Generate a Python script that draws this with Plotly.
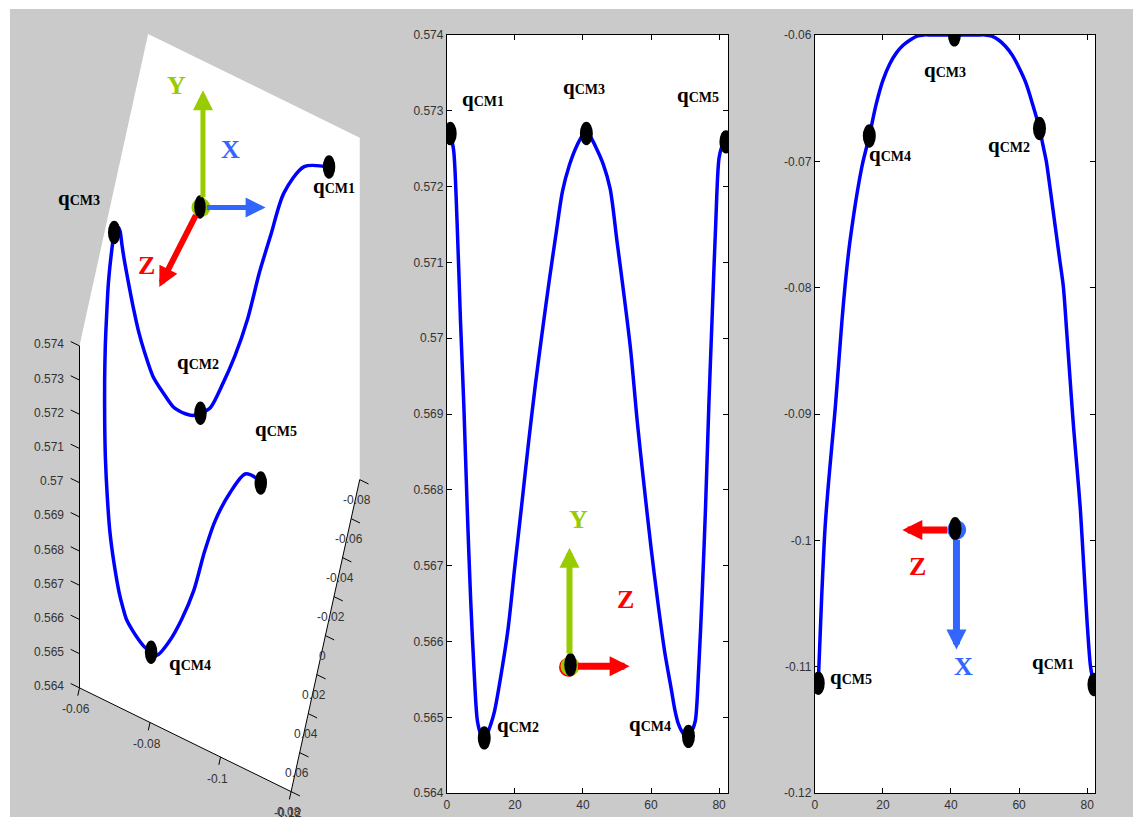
import plotly.graph_objects as go

W, H = 1133, 824

# ------------------------------------------------------------------ data
# sample number of the centre-of-mass trajectory
sample_idx = [1, 2, 3, 4, 5, 6, 7, 8, 9, 10,
              11, 12, 13, 14, 16, 18, 20, 22, 24, 26,
              28, 30, 32, 34, 36, 38, 40, 41, 42, 44,
              46, 48, 50, 52, 54, 56, 58, 60, 62, 64,
              66, 67, 68, 69, 70, 71, 72, 73, 74, 75,
              76, 77, 78, 79, 80, 81, 82]
# vertical coordinate Y (middle panel)
cm_y = [0.57270, 0.57248, 0.57155, 0.57025, 0.56911, 0.56775, 0.56656, 0.56562, 0.56495, 0.56478,
        0.56473, 0.56480, 0.56492, 0.56508, 0.56558, 0.56617, 0.56700, 0.56780, 0.56862, 0.56938,
        0.57007, 0.57073, 0.57135, 0.57194, 0.57228, 0.57252, 0.57268, 0.57270, 0.57267, 0.57250,
        0.57229, 0.57197, 0.57128, 0.57059, 0.56985, 0.56888, 0.56804, 0.56724, 0.56652, 0.56587,
        0.56536, 0.56510, 0.56492, 0.56482, 0.56476, 0.56475, 0.56482, 0.56495, 0.56564, 0.56660,
        0.56775, 0.56913, 0.57033, 0.57150, 0.57238, 0.57254, 0.57259]
# lateral coordinate X (right panel)
cm_x = [-0.1113, -0.1045, -0.0990, -0.0955, -0.0925, -0.0895, -0.0860, -0.0825, -0.0795, -0.0770,
        -0.0750, -0.0732, -0.0716, -0.0702, -0.0680, -0.0655, -0.0636, -0.0623, -0.0614, -0.0608,
        -0.0604, -0.0601, -0.0600, -0.0600, -0.0600, -0.0600, -0.0600, -0.0600, -0.0600, -0.0600,
        -0.0600, -0.0600, -0.0600, -0.0601, -0.0604, -0.0609, -0.0616, -0.0626, -0.0638, -0.0655,
        -0.0674, -0.0687, -0.0700, -0.0719, -0.0739, -0.0759, -0.0779, -0.0799, -0.0835, -0.0873,
        -0.0910, -0.0942, -0.0975, -0.1020, -0.1065, -0.1100, -0.1114]
# depth coordinate Z of first / last sample (3-D panel), samples evenly spread in Z
z_first, z_last = -0.08, 0.08

mid_marks, mid_names = [1, 11, 41, 71, 82], ["CM1", "CM2", "CM3", "CM4", "CM5"]
right_marks, right_names = [1, 16, 41, 66, 82], ["CM5", "CM4", "CM3", "CM2", "CM1"]
d3_marks, d3_names = [1, 10, 41, 72, 82], ["CM1", "CM2", "CM3", "CM4", "CM5"]

idx_ticks = [0, 20, 40, 60, 80]
mid_y_ticks = [0.564, 0.565, 0.566, 0.567, 0.568, 0.569, 0.570, 0.571, 0.572, 0.573, 0.574]
mid_y_text = ["0.564", "0.565", "0.566", "0.567", "0.568", "0.569", "0.57", "0.571", "0.572", "0.573", "0.574"]
right_y_ticks = [-0.12, -0.11, -0.10, -0.09, -0.08, -0.07, -0.06]
right_y_text = ["-0.12", "-0.11", "-0.1", "-0.09", "-0.08", "-0.07", "-0.06"]
d3_x_ticks = [-0.06, -0.08, -0.10, -0.12]
d3_x_text = ["-0.06", "-0.08", "-0.1", "-0.12"]
d3_z_ticks = [-0.08, -0.06, -0.04, -0.02, 0.0, 0.02, 0.04, 0.06, 0.08]
d3_z_text = ["-0.08", "-0.06", "-0.04", "-0.02", "0", "0.02", "0.04", "0.06", "0.08"]
d3_xlim, d3_ylim, d3_zlim = (-0.12, -0.06), (0.564, 0.574), (-0.08, 0.08)

# ------------------------------------------------------------------ styles
SERIF, SANS = "Liberation Serif", "Liberation Sans"
CURVE = "#0000ff"
GREEN, XBLUE, RED = "#99cc00", "#3366ff", "#ff0000"
TICKC = "#333333"
GREY_BG = "#cacaca"

# vertical placement calibration (target pixel row -> figure row)
Y_OFF, Y_SCALE = 6.1, 0.9826


def fy(py):
    """paper fraction for a target pixel row"""
    return 1 - (py - Y_OFF) / Y_SCALE / H


def vpx(d):
    """vertical pixel length in figure units"""
    return d / Y_SCALE


# orthographic projection of the 3-D panel (target pixels)
P_O = (76.7, 686.7)
P_REF = (-0.06, 0.564, 0.08)
P_EX = (-3536.0, -1728.0)
P_EY = (0.0, -34185.0)
P_EZ = (-430.0, 1949.0)


def proj(X, Y, Z):
    dx, dy, dz = X - P_REF[0], Y - P_REF[1], Z - P_REF[2]
    return (P_O[0] + dx * P_EX[0] + dy * P_EY[0] + dz * P_EZ[0],
            P_O[1] + dx * P_EX[1] + dy * P_EY[1] + dz * P_EZ[1])


n0, n1 = sample_idx[0], sample_idx[-1]
cm_z = [z_first + (i - n0) / (n1 - n0) * (z_last - z_first) for i in sample_idx]
proj_pts = [proj(x, y, z) for x, y, z in zip(cm_x, cm_y, cm_z)]


def val(series, i):
    return series[sample_idx.index(i)]


fig = go.Figure()
line_style = dict(color=CURVE, width=3.5, shape="spline", smoothing=0.8)

fig.add_trace(go.Scatter(x=[p[0] for p in proj_pts], y=[p[1] for p in proj_pts], xaxis="x", yaxis="y",
                         mode="lines", line=line_style, hoverinfo="skip", cliponaxis=False))
fig.add_trace(go.Scatter(x=sample_idx, y=cm_y, xaxis="x2", yaxis="y2", mode="lines",
                         line=line_style, hoverinfo="skip", cliponaxis=False))
fig.add_trace(go.Scatter(x=sample_idx, y=cm_x, xaxis="x3", yaxis="y3", mode="lines",
                         line=line_style, hoverinfo="skip", cliponaxis=False))

# 3-D axes lines and ticks
seg_x, seg_y = [], []


def seg(p, q):
    seg_x.extend([p[0], q[0], None])
    seg_y.extend([p[1], q[1], None])


X_hi, X_lo = d3_xlim[1], d3_xlim[0]
Y_lo, Y_hi = d3_ylim
Z_lo, Z_hi = d3_zlim
A = proj(X_hi, Y_lo, Z_hi)
B = proj(X_lo, Y_lo, Z_hi)
C = proj(X_lo, Y_lo, Z_lo)
D = proj(X_lo, Y_hi, Z_lo)
E = proj(X_hi, Y_hi, Z_lo)
F = proj(X_hi, Y_hi, Z_hi)
seg(A, F)
seg(A, B)
seg(B, C)
annotations = []


def tick_label(pt, txt, xanchor="center"):
    annotations.append(dict(xref="x", yref="y", x=pt[0], y=pt[1], text=txt, showarrow=False,
                            xanchor=xanchor, yanchor="middle",
                            font=dict(family=SANS, size=12, color=TICKC)))


for v, t in zip(mid_y_ticks, mid_y_text):
    p = proj(X_hi, v, Z_hi)
    seg(p, proj(X_hi + 0.0025, v, Z_hi))
    tick_label((p[0] - 13.5, p[1] - 1.5), t, "right")
for v, t in zip(d3_x_ticks, d3_x_text):
    p = proj(v, Y_lo, Z_hi)
    seg(p, proj(v, Y_lo, Z_hi + 0.004))
    tick_label((p[0] - 3.5, p[1] + 21.5), t)
for v, t in zip(d3_z_ticks, d3_z_text):
    p = proj(X_lo, Y_lo, v)
    seg(p, proj(X_lo - 0.0025, Y_lo, v))
    tick_label((p[0] - 2.5, p[1] + 20), t)

fig.add_trace(go.Scatter(x=seg_x, y=seg_y, xaxis="x", yaxis="y", mode="lines",
                         line=dict(color="black", width=1), hoverinfo="skip", cliponaxis=False))

# ------------------------------------------------------------------ shapes
shapes = [
    dict(type="rect", xref="paper", yref="paper", x0=7 / W, x1=1, y0=0, y1=fy(8),
         fillcolor=GREY_BG, line=dict(width=0), layer="below"),
    dict(type="rect", xref="x2 domain", yref="y2 domain", x0=0, x1=1, y0=0, y1=1,
         fillcolor="white", line=dict(width=0), layer="below"),
    dict(type="rect", xref="x3 domain", yref="y3 domain", x0=0, x1=1, y0=0, y1=1,
         fillcolor="white", line=dict(width=0), layer="below"),
    dict(type="path", xref="x", yref="y", layer="below", fillcolor="white", line=dict(width=0),
         path="M{:.1f},{:.1f} L{:.1f},{:.1f} L{:.1f},{:.1f} L{:.1f},{:.1f} L{:.1f},{:.1f} L{:.1f},{:.1f} Z".format(
             *A, *B, *C, *D, *E, *F)),
]


def ellipse(xref, yref, x, y, w=13, h=23, color="black"):
    hh = vpx(h)
    return dict(type="circle", xref=xref, yref=yref, xsizemode="pixel", ysizemode="pixel",
                xanchor=x, yanchor=y, x0=-w / 2, x1=w / 2, y0=-hh / 2, y1=hh / 2,
                fillcolor=color, line=dict(width=0), layer="above")


def qlabel(xref, yref, x, y, name, dx, dy):
    return dict(xref=xref, yref=yref, x=x, y=y, xshift=dx, yshift=vpx(-dy + 4), showarrow=False,
                text="<b>q<span style='font-size:14px'>%s</span></b>" % name,
                font=dict(family=SERIF, size=21, color="black"), xanchor="center", yanchor="middle")


mid_off = {"CM1": (33, -30), "CM2": (34, -9), "CM3": (-2, -42), "CM4": (-38, -8), "CM5": (-28, -42)}
right_off = {"CM5": (33, -2), "CM4": (21, 22), "CM3": (-9, 38), "CM2": (-30, 20), "CM1": (-41, -18)}
d3_off = {"CM1": (5, 23), "CM2": (-2, -46), "CM3": (-35.5, -30), "CM4": (38.5, 15), "CM5": (15.5, -49)}

for i, nm in zip(mid_marks, mid_names):
    shapes.append(ellipse("x2", "y2", i, val(cm_y, i)))
    annotations.append(qlabel("x2", "y2", i, val(cm_y, i), nm, *mid_off[nm]))
for i, nm in zip(right_marks, right_names):
    shapes.append(ellipse("x3", "y3", i, val(cm_x, i)))
    annotations.append(qlabel("x3", "y3", i, val(cm_x, i), nm, *right_off[nm]))
for i, nm in zip(d3_marks, d3_names):
    p = proj_pts[sample_idx.index(i)]
    shapes.append(ellipse("x", "y", p[0], p[1], w=12.5))
    annotations.append(qlabel("x", "y", p[0], p[1], nm, *d3_off[nm]))


# ------------------------------------------------------------------ coordinate-frame glyphs
def pshape(px, py, w, h, color):
    return ellipse("paper", "paper", px / W, fy(py), w=w, h=h, color=color)


def arrow(tail, tip, color, width):
    return dict(xref="paper", yref="paper", x=tip[0] / W, y=fy(tip[1]),
                ax=tail[0] - tip[0], ay=vpx(tail[1] - tip[1]), axref="pixel", ayref="pixel",
                showarrow=True, arrowhead=2, arrowsize=4.0 / width, arrowwidth=width,
                arrowcolor=color, text="", standoff=0, startstandoff=0)


def letter(px, py, txt, color):
    return dict(xref="paper", yref="paper", x=px / W, y=fy(py), text="<b>%s</b>" % txt,
                showarrow=False, font=dict(family=SERIF, size=26, color=color),
                xanchor="center", yanchor="middle")


# 3-D panel frame
shapes += [pshape(198.5, 206.5, 19, 19, GREEN), pshape(197.5, 206, 11.5, 23, "black")]
annotations += [arrow((200.5, 196), (200.5, 89.3), GREEN, 5),
                arrow((203, 206.5), (263.3, 206.5), XBLUE, 5),
                arrow((194, 214), (156.7, 286), RED, 6),
                letter(173.7, 85, "Y", GREEN), letter(228, 149, "X", XBLUE), letter(143.5, 264, "Z", RED)]
# middle panel frame
shapes += [pshape(567, 666, 19, 19, RED), pshape(568.5, 665, 19, 19, GREEN),
           pshape(569, 663.5, 12.5, 23, "black")]
annotations += [arrow((568, 652), (568, 546.7), GREEN, 6),
                arrow((575, 665), (628.3, 665), RED, 7),
                letter(577.5, 518, "Y", GREEN), letter(624, 598, "Z", RED)]
# right panel frame
shapes += [pshape(956.2, 528.7, 19, 19, XBLUE), pshape(954.7, 527.7, 12.7, 23, "black")]
annotations += [arrow((948, 529), (901.7, 529), RED, 7),
                arrow((956, 539), (956, 648.3), XBLUE, 7),
                letter(917, 565, "Z", RED), letter(963.5, 665.3, "X", XBLUE)]

# ------------------------------------------------------------------ layout
ax_common = dict(showline=True, linecolor="black", linewidth=1, mirror="ticks", ticks="inside",
                 ticklen=5, tickwidth=1, tickcolor="black", showgrid=False, zeroline=False,
                 tickfont=dict(family=SANS, size=12, color=TICKC), fixedrange=True,
                 layer="below traces")

fig.update_layout(
    width=W, height=H, margin=dict(l=0, r=0, t=0, b=0), autosize=False,
    paper_bgcolor="white", plot_bgcolor="rgba(0,0,0,0)", showlegend=False,
    xaxis=dict(domain=[0, 400 / W], range=[0, 400], visible=False, fixedrange=True),
    yaxis=dict(domain=[0, 1], range=[Y_OFF + Y_SCALE * H, Y_OFF], visible=False, fixedrange=True),
    xaxis2=dict(domain=[445 / W, 727 / W], range=[0, 82.64], anchor="y2",
                tickvals=idx_ticks, **ax_common),
    yaxis2=dict(domain=[fy(792), fy(34)], range=[0.564, 0.574], anchor="x2",
                tickvals=mid_y_ticks, ticktext=mid_y_text, **ax_common),
    xaxis3=dict(domain=[814 / W, 1095 / W], range=[0, 82.34], anchor="y3",
                tickvals=idx_ticks, **ax_common),
    yaxis3=dict(domain=[fy(792), fy(34)], range=[-0.12, -0.06], anchor="x3",
                tickvals=right_y_ticks, ticktext=right_y_text, **ax_common),
    shapes=shapes,
    annotations=annotations,
)

page_fix = ("var gd=document.getElementById('{plot_id}');"
            "gd.style.position='fixed';gd.style.top='0px';gd.style.left='0px';"
            "document.body.style.margin='0';document.body.style.overflow='hidden';"
            "document.documentElement.style.overflow='hidden';")

fig.write_html("out.html", config={"displayModeBar": False, "responsive": False},
               post_script=page_fix)
